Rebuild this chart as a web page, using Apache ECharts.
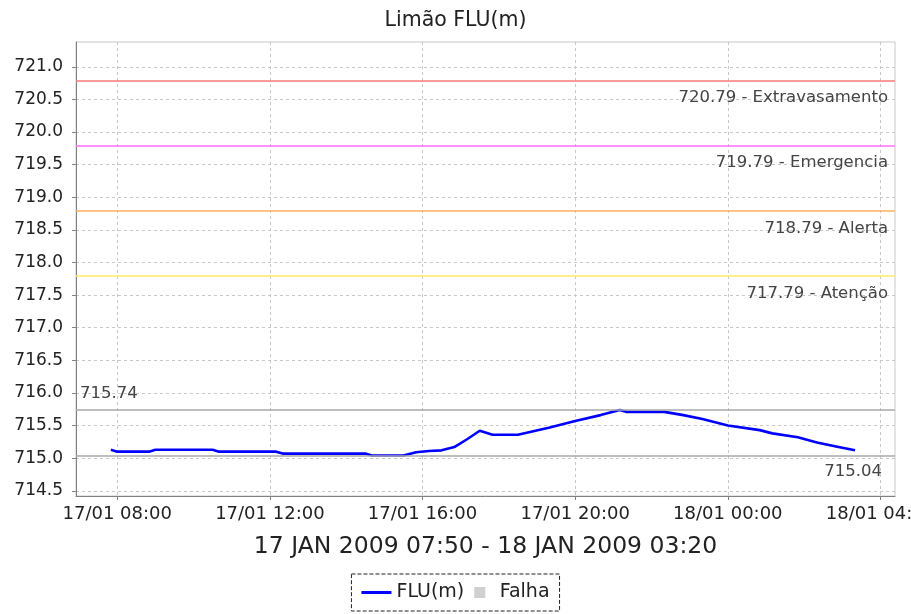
<!DOCTYPE html>
<html>
<head>
<meta charset="utf-8">
<title>Limão FLU(m)</title>
<script src="https://cdn.jsdelivr.net/npm/echarts@6/dist/echarts.min.js"></script>
<style>
	html, body { margin: 0; padding: 0; background: #fff; }
	#chart { width: 911px; height: 614px; }
</style>
</head>
<body>
<div id="chart"></div>
<script>
// leituras do nivel (dd/mm HH:MM)
var times = [ '17/01 07:50', '17/01 08:00', '17/01 08:50', '17/01 09:00',
		'17/01 10:30', '17/01 10:40', '17/01 12:10', '17/01 12:20',
		'17/01 14:30', '17/01 14:40', '17/01 15:30', '17/01 15:50',
		'17/01 16:10', '17/01 16:30', '17/01 16:50', '17/01 17:10',
		'17/01 17:30', '17/01 17:50', '17/01 18:30', '17/01 19:20',
		'17/01 20:00', '17/01 20:40', '17/01 21:10', '17/01 21:20',
		'17/01 22:20', '17/01 22:50', '17/01 23:20', '18/01 00:00',
		'18/01 00:50', '18/01 01:10', '18/01 01:50', '18/01 02:20',
		'18/01 02:50', '18/01 03:20' ];
var levels = [ 715.13, 715.10, 715.10, 715.13, 715.13, 715.10, 715.10, 715.07,
		715.07, 715.04, 715.04, 715.09, 715.11, 715.12, 715.17, 715.29,
		715.42, 715.36, 715.36, 715.47, 715.57, 715.66, 715.74, 715.71,
		715.71, 715.66, 715.60, 715.50, 715.43, 715.38, 715.32, 715.24,
		715.18, 715.12 ];

// cotas de referencia
var markerValues = [ 720.79, 719.79, 718.79, 717.79 ];
var markerNames = [ 'Extravasamento', 'Emergencia', 'Alerta', 'Atenção' ];
var markerColors = [ 'rgb(255,120,120)', 'rgb(255,110,255)', 'rgb(255,175,90)', 'rgb(255,235,100)' ];

// maximo / minimo do periodo
var maxLevel = 715.74;
var minLevel = 715.04;

var yTicks = [ 714.5, 715.0, 715.5, 716.0, 716.5, 717.0, 717.5, 718.0,
		718.5, 719.0, 719.5, 720.0, 720.5, 721.0 ];
var xTicks = [ '17/01 08:00', '17/01 12:00', '17/01 16:00', '17/01 20:00',
		'18/01 00:00', '18/01 04:00' ];

var fontName = 'DejaVu Sans';

function toHours(s) {
	var day = parseInt(s.slice(0, 2), 10);
	var h = parseInt(s.slice(6, 8), 10);
	var m = parseInt(s.slice(9, 11), 10);
	return (day - 17) * 24 + h + m / 60;
}

function pad(n) {
	return (n < 10 ? '0' : '') + n;
}

function hoursLabel(v) {
	var day = 17 + Math.floor(v / 24);
	var hh = Math.round(v - Math.floor(v / 24) * 24);
	return day + '/01 ' + pad(hh) + ':00';
}

var seriesData = [];
for (var i = 0; i < times.length; i++) {
	seriesData.push([ toHours(times[i]), levels[i] ]);
}

// uma serie so com markLine para cada linha horizontal
function lineSeries(value, color, text, position, distance) {
	return {
		name : text,
		type : 'line',
		data : [],
		silent : true,
		markLine : {
			silent : true,
			symbol : 'none',
			animation : false,
			lineStyle : {
				color : color,
				width : 1.5,
				opacity : 1,
				type : 'solid'
			},
			label : {
				show : true,
				position : position,
				distance : distance,
				formatter : text,
				color : '#444',
				fontFamily : fontName,
				fontSize : 16.5
			},
			data : [ {
				yAxis : value
			} ]
		}
	};
}

var series = [ {
	name : 'FLU(m)',
	type : 'line',
	symbol : 'none',
	color : '#0000ff',
	lineStyle : {
		width : 2.6,
		color : '#0000ff'
	},
	data : seriesData
}, {
	name : 'Falha',
	type : 'scatter',
	color : '#c4c4c4',
	data : []
} ];

for (var j = 0; j < markerValues.length; j++) {
	series.push(lineSeries(markerValues[j], markerColors[j],
			markerValues[j].toFixed(2) + ' - ' + markerNames[j],
			'insideEndBottom', [ 7, 9 ]));
}
series.push(lineSeries(maxLevel, '#a8a8a8', maxLevel.toFixed(2),
		'insideStartTop', [ 4, 8 ]));
series.push(lineSeries(minLevel, '#a8a8a8', minLevel.toFixed(2),
		'insideEndBottom', [ 13, 8 ]));

var xTickValues = xTicks.map(toHours);

var option = {
	animation : false,
	backgroundColor : '#fff',
	textStyle : {
		fontFamily : fontName
	},
	title : {
		text : 'Limão FLU(m)',
		left : 'center',
		top : 5,
		textStyle : {
			fontFamily : fontName,
			fontWeight : 'normal',
			fontSize : 20.5,
			color : '#222'
		}
	},
	legend : {
		bottom : 3,
		left : 'center',
		padding : [ 9, 10 ],
		itemGap : 10,
		itemWidth : 30,
		itemHeight : 11,
		borderColor : '#222',
		borderWidth : 1,
		borderType : 'dashed',
		textStyle : {
			fontFamily : fontName,
			fontSize : 19,
			color : '#222'
		},
		data : [ {
			name : 'FLU(m)',
			icon : 'path://M0,0h30v3h-30z',
			itemStyle : {
				color : '#0000ff'
			}
		}, {
			name : 'Falha',
			icon : 'path://M0,0h10v10h-10z',
			itemStyle : {
				color : '#c4c4c4'
			}
		} ]
	},
	grid : {
		left : 76,
		right : 16,
		top : 42,
		bottom : 118,
		containLabel : false,
		outerBoundsMode : 'none',
		show : true,
		borderColor : '#c8c8c8',
		borderWidth : 1
	},
	xAxis : {
		type : 'value',
		min : 6.92,
		max : 28.38,
		name : '17 JAN 2009 07:50 - 18 JAN 2009 03:20',
		nameLocation : 'middle',
		nameGap : 39,
		nameTextStyle : {
			fontFamily : fontName,
			fontSize : 23.5,
			color : '#222'
		},
		axisLine : {
			lineStyle : {
				color : '#808080'
			}
		},
		axisTick : {
			show : true,
			length : 4,
			customValues : xTickValues,
			lineStyle : {
				color : '#808080'
			}
		},
		axisLabel : {
			customValues : xTickValues,
			margin : 9,
			hideOverlap : false,
			fontFamily : fontName,
			fontSize : 18,
			color : '#222',
			formatter : function(v) {
				return hoursLabel(v);
			}
		},
		splitLine : {
			show : true,
			lineStyle : {
				color : '#c8c8c8',
				type : [ 3, 3 ]
			}
		}
	},
	yAxis : {
		type : 'value',
		min : 714.42,
		max : 721.38,
		axisLine : {
			show : true,
			lineStyle : {
				color : '#808080'
			}
		},
		axisTick : {
			show : true,
			length : 4,
			customValues : yTicks,
			lineStyle : {
				color : '#808080'
			}
		},
		axisLabel : {
			customValues : yTicks,
			margin : 13,
			fontFamily : fontName,
			fontSize : 17,
			color : '#222',
			formatter : function(v) {
				return v.toFixed(1);
			}
		},
		splitLine : {
			show : true,
			lineStyle : {
				color : '#c8c8c8',
				type : [ 3, 3 ]
			}
		}
	},
	series : series
};

var chart = echarts.init(document.getElementById('chart'));
chart.setOption(option);
</script>
</body>
</html>
